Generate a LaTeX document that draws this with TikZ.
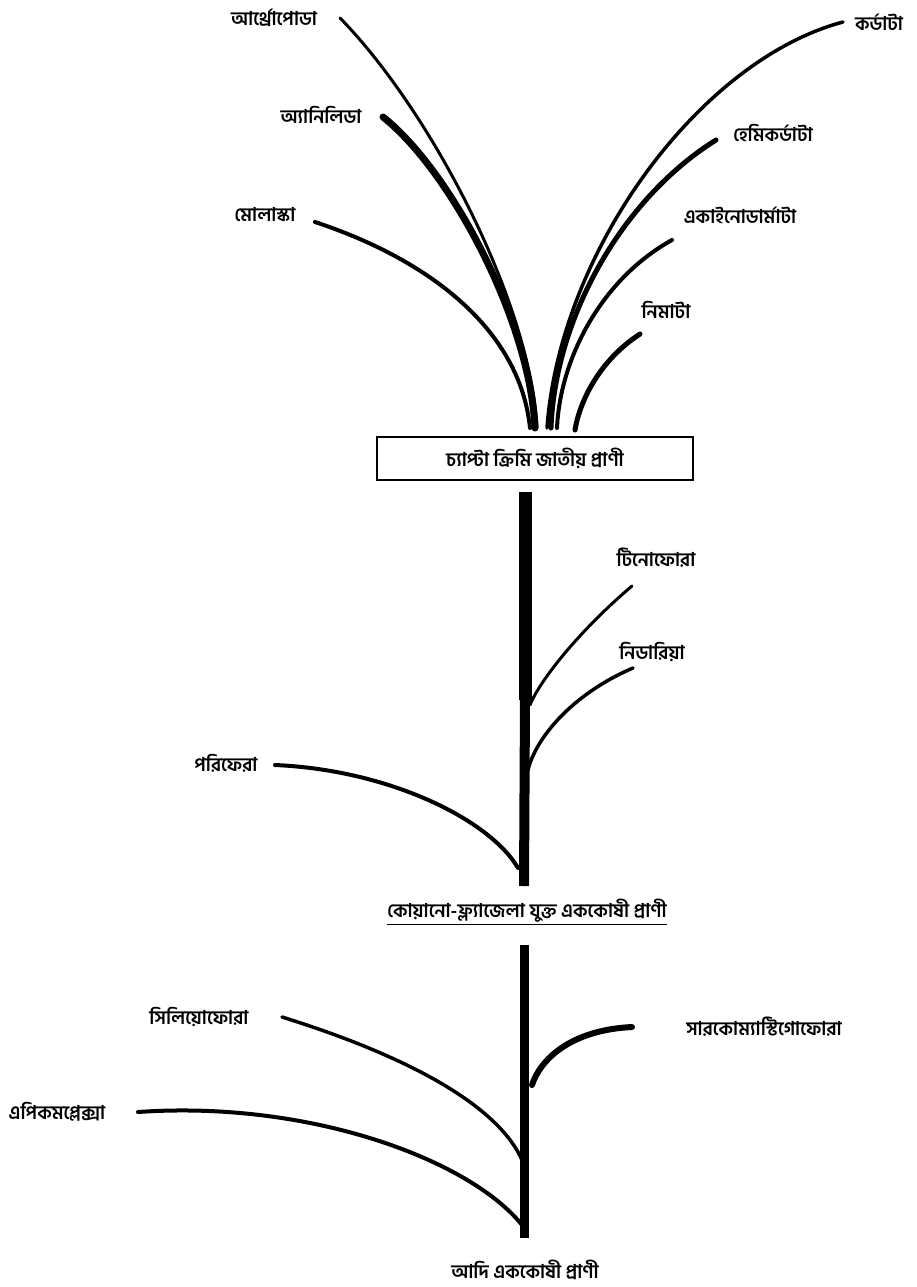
\documentclass[tikz,border=0pt]{standalone}
\usepackage{fontspec}
\newfontfamily\bn[Script=Bengali]{Hind Siliguri}
\begin{document}
\begin{tikzpicture}[x=1pt,y=-1pt,
  lbl/.style={font=\bn\bfseries\fontsize{19}{22}\selectfont, inner sep=0pt},
  br/.style={line width=3.5pt, line cap=round},
  boxnode/.style={draw, line width=2pt, minimum width=316pt, minimum height=43pt, inner sep=0pt, font=\bn\bfseries\fontsize{19}{22}\selectfont}]
\useasboundingbox (0,0) rectangle (916,1287);
% labels
\node[lbl] (arth) at (274,18) {আর্থ্রোপোডা};
\node[lbl] (anne) at (321,115) {অ্যানিলিডা};
\node[lbl] (moll) at (265,215) {মোলাস্কা};
\node[lbl] (chor) at (879,22) {কর্ডাটা};
\node[lbl] (hemi) at (773,133) {হেমিকর্ডাটা};
\node[lbl] (echi) at (740,215) {একাইনোডার্মাটা};
\node[lbl] (nema) at (666,310) {নিমাটা};
\node[boxnode] (flat) at (535,458.5) {চ্যাপ্টা ক্রিমি জাতীয় প্রাণী};
\node[lbl] (cten) at (656,558) {টিনোফোরা};
\node[lbl] (cnid) at (652,652) {নিডারিয়া};
\node[lbl] (pori) at (226,763) {পরিফেরা};
\node[lbl] (choa) at (527,912) {\underline{কোয়ানো-ফ্ল্যাজেলা যুক্ত এককোষী প্রাণী}};
\node[lbl] (cili) at (199,1017) {সিলিয়োফোরা};
\node[lbl] (apic) at (57,1112) {এপিকমপ্লেক্সা};
\node[lbl] (sarc) at (764,1027) {সারকোম্যাস্টিগোফোরা};
\node[lbl] (adi) at (525,1270) {আদি এককোষী প্রাণী};
% trunk coordinates
\coordinate (t1) at (525,492);
\coordinate (t2) at (524,886);
\coordinate (t3) at (524,945);
\coordinate (t4) at (524,1238);
\draw[line width=13pt] (t1) -- (525,700);
\draw[line width=10pt] (525,699) -- (t2);
\draw[line width=9pt] (t3) -- (t4);
% branch free ends near labels
\coordinate (s1) at (340,18);
\coordinate (s2) at (383,117);
\coordinate (s3) at (315,222);
\coordinate (s4) at (843,22);
\coordinate (s5) at (716,140);
\coordinate (s6) at (672,240);
\coordinate (s7) at (640,334);
\coordinate (s8) at (632,586);
\coordinate (s9) at (633,668);
\coordinate (s10) at (275,765);
\coordinate (s11) at (282,1017);
\coordinate (s12) at (138,1112);
\coordinate (s13) at (632,1027);
% top branch endpoints
\coordinate (e1) at (537,428);
\coordinate (e2) at (535,428);
\coordinate (e3) at (530,428);
\coordinate (e4) at (547,428);
\coordinate (e5) at (551,428);
\coordinate (e6) at (557,428);
\coordinate (e7) at (575,430);
\draw[br,line width=3pt] (s1) .. controls (430,110) and (530,300) .. (e1);
\draw[br,line width=7pt] (s2) .. controls (450,170) and (530,320) .. (e2);
\draw[br,line width=4pt] (s3) .. controls (430,260) and (520,330) .. (e3);
\draw[br,line width=3.5pt] (s4) .. controls (700,60) and (560,250) .. (e4);
\draw[br,line width=5pt] (s5) .. controls (620,200) and (555,320) .. (e5);
\draw[br,line width=4pt] (s6) .. controls (600,280) and (560,360) .. (e6);
\draw[br,line width=5pt] (s7) .. controls (600,360) and (580,400) .. (e7);
% middle branches
\coordinate (m1) at (530,705);
\coordinate (m2) at (528,770);
\coordinate (m3) at (518,868);
\draw[br,line width=3pt] (s8) .. controls (580,630) and (540,680) .. (m1);
\draw[br,line width=3.5pt] (s9) .. controls (570,695) and (535,740) .. (m2);
\draw[br,line width=4pt] (s10) .. controls (390,770) and (490,820) .. (m3);
% bottom branches
\coordinate (b1) at (522,1160);
\coordinate (b2) at (522,1225);
\coordinate (b3) at (532,1085);
\draw[br,line width=3.5pt] (s11) .. controls (420,1060) and (500,1110) .. (b1);
\draw[br,line width=4pt] (s12) .. controls (310,1100) and (470,1160) .. (b2);
\draw[br,line width=6pt] (s13) .. controls (570,1030) and (540,1060) .. (b3);
\end{tikzpicture}
\end{document}
